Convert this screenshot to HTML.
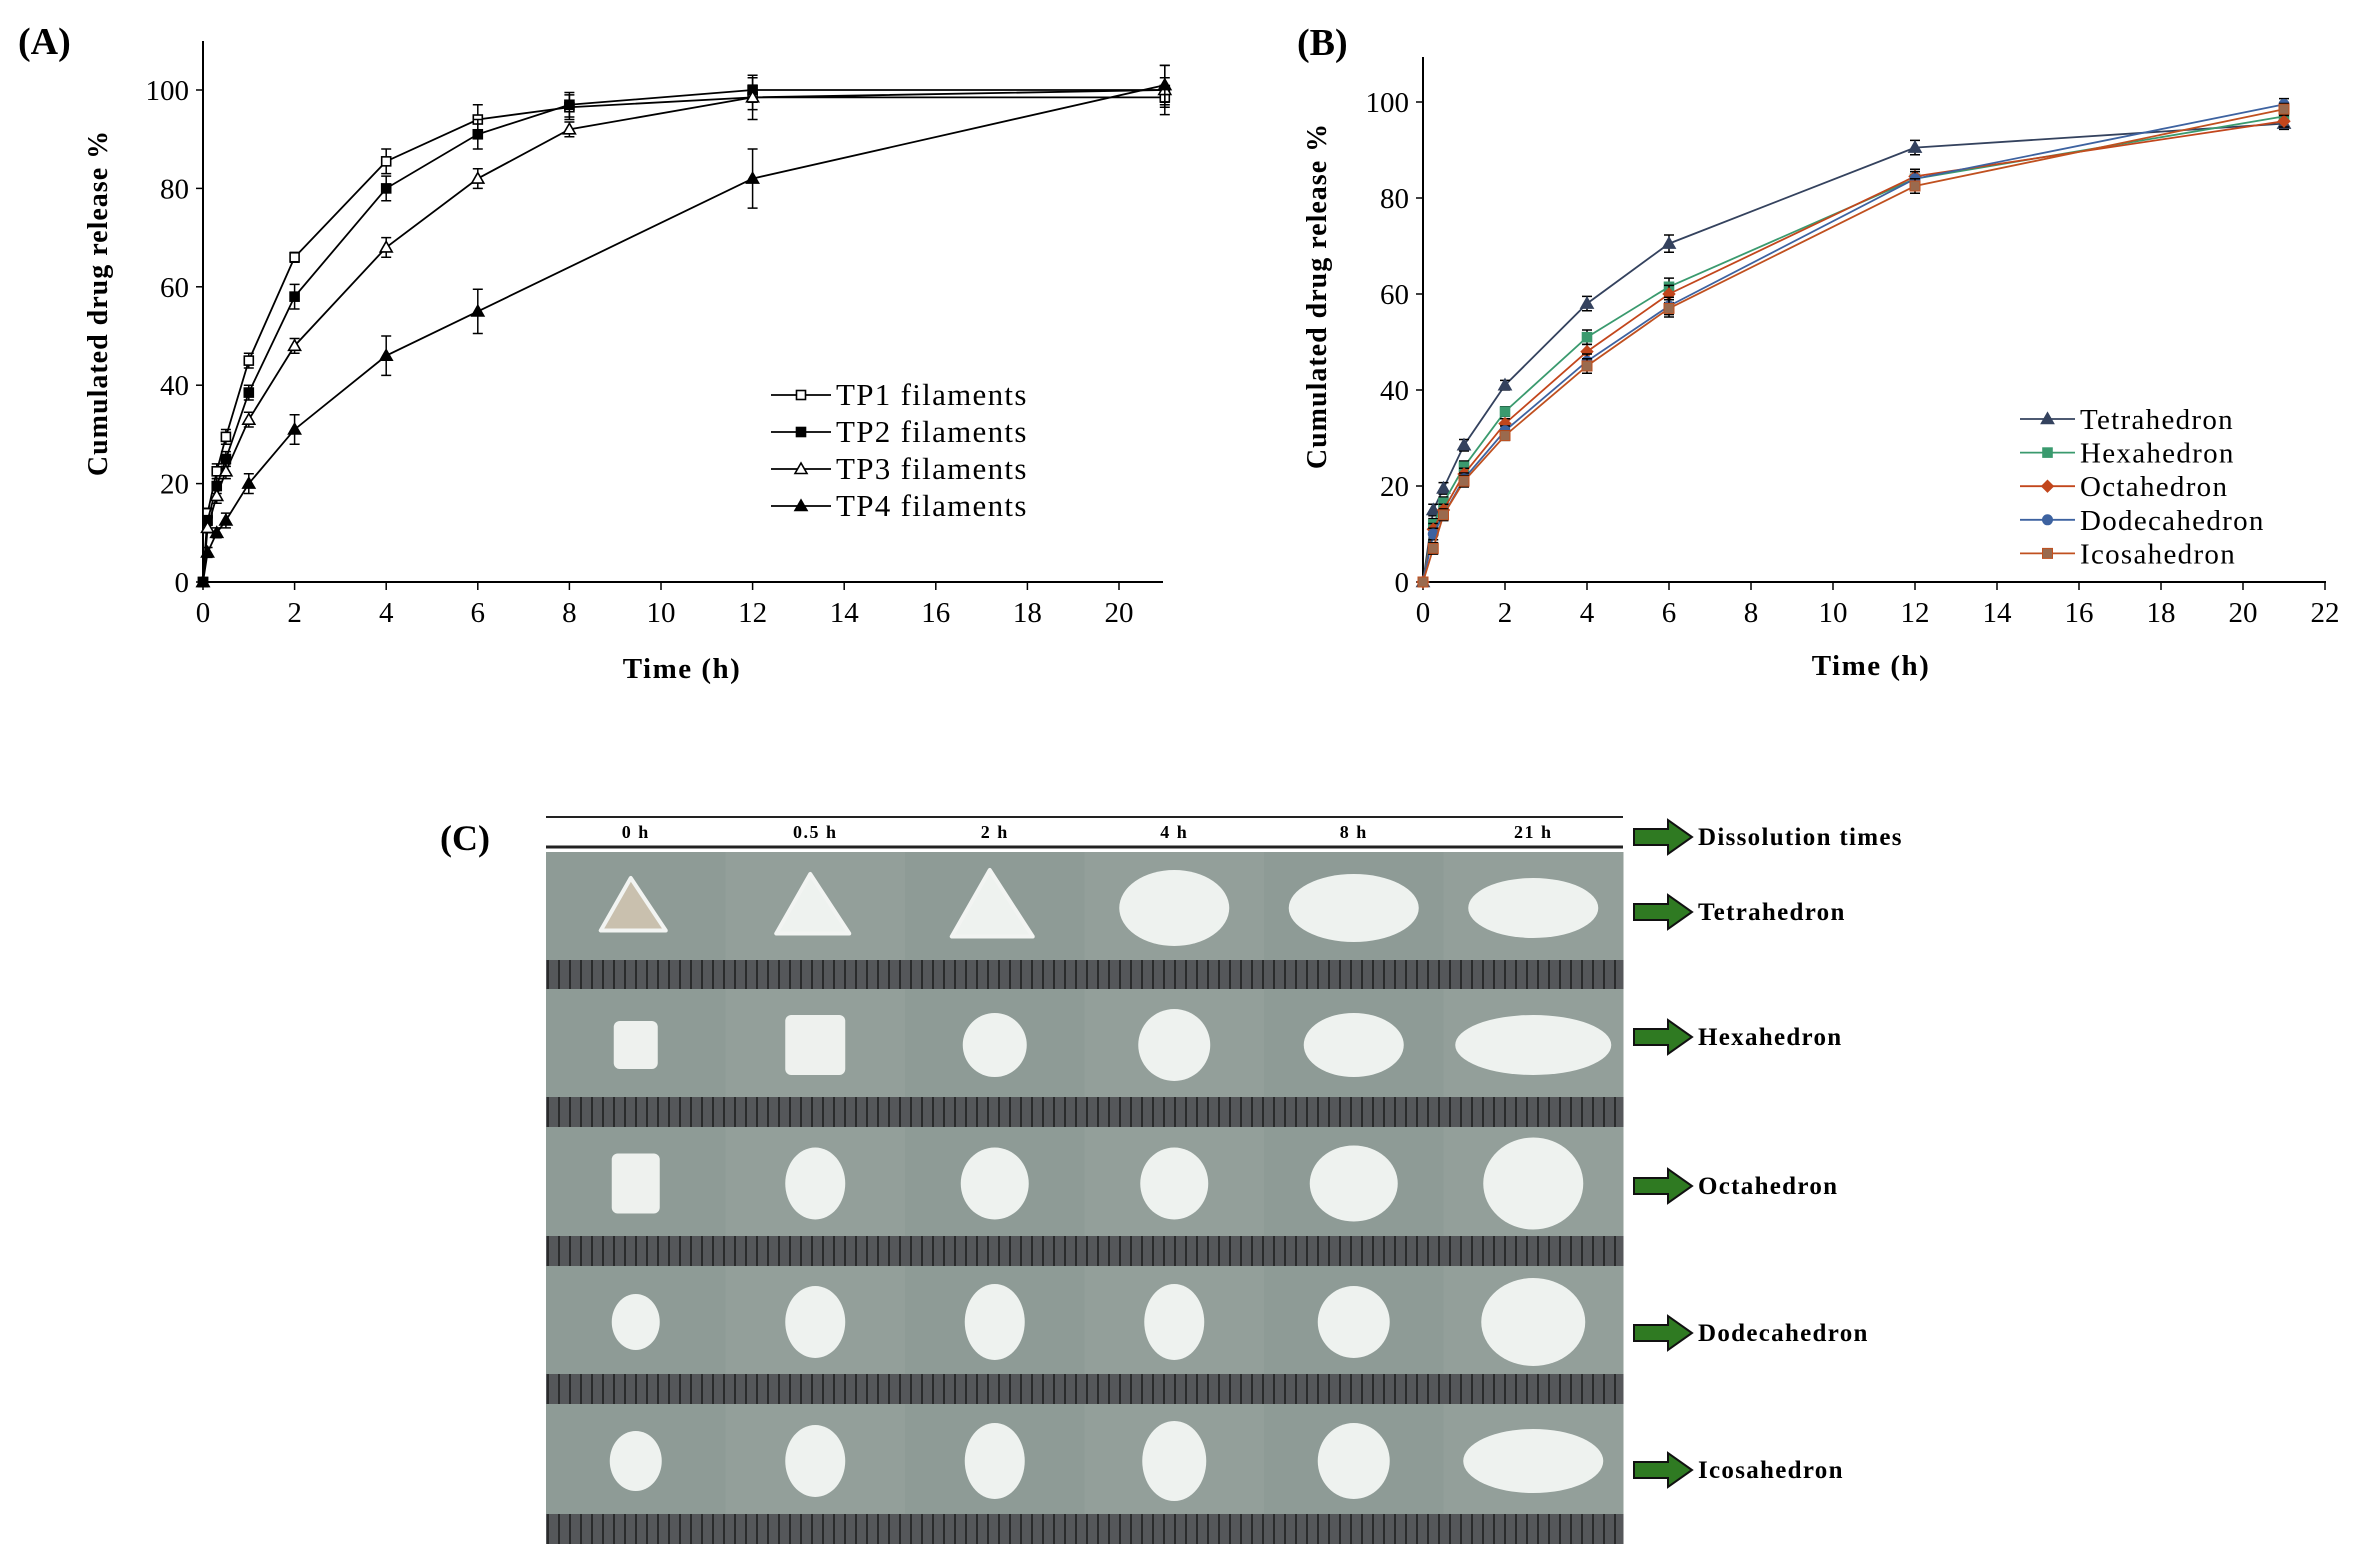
<!DOCTYPE html>
<html><head><meta charset="utf-8"><style>
html,body{margin:0;padding:0;background:#fff;}
svg{display:block;font-family:"Liberation Serif",serif;}
</style></head><body>
<svg id="fig" width="2357" height="1561" viewBox="0 0 2357 1561" xmlns="http://www.w3.org/2000/svg">
<defs>
<pattern id="ruler" width="11" height="40" patternUnits="userSpaceOnUse">
<rect width="11" height="40" fill="#55575a"/><rect x="8" width="2" height="40" fill="#2a2b2c"/>
</pattern>
</defs>
<g id="panelA"></g>
<g id="panelB"></g>
<g id="panelC"></g>
</svg>
<script>
// ---- Panel A data ----
const timesA = [0, 0.1, 0.3, 0.5, 1, 2, 4, 6, 8, 12, 21];
const tp1 = [0, 14, 22.5, 29.5, 45, 66, 85.5, 94, 96.5, 98.5, 98.5];
const tp2 = [0, 12.5, 19.5, 25, 38.5, 58, 80, 91, 97, 100, 100];
const tp3 = [0, 11, 17.5, 22.5, 33, 48, 68, 82, 92, 98.5, 100];
const tp4 = [0, 6, 10, 12.5, 20, 31, 46, 55, null, 82, 101];
const errA1 = [0, 1, 1.5, 1.5, 1.5, 1, 2.5, 3, 2.5, 2.5, 2];
const errA2 = [0, 1, 1.5, 1.5, 1.5, 2.5, 2.5, 3, 2.5, 2.5, 2.5];
const errA3 = [0, 1, 1.5, 1.5, 1.5, 1.5, 2, 2, 1.5, 4.5, 5];
const errA4 = [0, 1, 1, 1.5, 2, 3, 4, 4.5, 0, 6, 4];
const xTicksA = [0,2,4,6,8,10,12,14,16,18,20];
const yTicksA = [0,20,40,60,80,100];
const namesA = ["TP1 filaments","TP2 filaments","TP3 filaments","TP4 filaments"];
// ---- Panel B data ----
const timesB = [0, 0.25, 0.5, 1, 2, 4, 6, 12, 21];
const tetra = [0, 15, 19.5, 28.5, 41, 58, 70.5, 90.5, 95.5];
const hexa = [0, 12, 16.5, 24, 35.5, 51, 61.5, 84, 97];
const octa = [0, 11, 15, 22.5, 33, 48, 60, 84.5, 96];
const dodeca = [0, 10, 14, 21.5, 31.5, 46, 57.5, 84, 99.5];
const icosa = [0, 7, 14, 21, 30.5, 45, 57, 82.5, 98.5];
const errB = [0, 1.2, 1.2, 1.2, 1, 1.5, 1.8, 1.5, 1.2];
const xTicksB = [0,2,4,6,8,10,12,14,16,18,20,22];
const yTicksB = [0,20,40,60,80,100];
const namesB = ["Tetrahedron","Hexahedron","Octahedron","Dodecahedron","Icosahedron"];
// ---- Panel C labels ----
const timeLabels = ["0 h","0.5 h","2 h","4 h","8 h","21 h"];
const shapeLabels = ["Tetrahedron","Hexahedron","Octahedron","Dodecahedron","Icosahedron"];

const NS="http://www.w3.org/2000/svg";
function mk(parent, tag, attrs, text){const e=document.createElementNS(NS,tag);for(const k in attrs)e.setAttribute(k,attrs[k]);if(text!==undefined)e.textContent=text;parent.appendChild(e);return e;}

function marker(g, shape, x, y, color, fill){
  let e;
  if(shape==="sq"){e=mk(g,"rect",{x:x-4.5,y:y-4.5,width:9,height:9,fill:fill,stroke:color,"stroke-width":1.6});}
  else if(shape==="tri"){e=mk(g,"polygon",{points:`${x},${y-6} ${x-6},${y+4.5} ${x+6},${y+4.5}`,fill:fill,stroke:color,"stroke-width":1.6});}
  else if(shape==="dia"){e=mk(g,"polygon",{points:`${x},${y-6} ${x+6},${y} ${x},${y+6} ${x-6},${y}`,fill:fill,stroke:color,"stroke-width":1});}
  else if(shape==="circ"){e=mk(g,"circle",{cx:x,cy:y,r:5,fill:fill,stroke:color});}
  else {e=mk(g,"rect",{x:x-5,y:y-5,width:10,height:10,fill:fill,stroke:color});}
  
  
  return e;
}

function drawChart(g, cfg){
  const sx=v=>cfg.x0+(v-cfg.xmin)*cfg.xs;
  const sy=v=>cfg.y0-v*cfg.ys;
  const ya=mk(g,"line",{x1:cfg.x0,y1:cfg.top,x2:cfg.x0,y2:cfg.y0,stroke:"#000","stroke-width":2});
  
  
  const xa=mk(g,"line",{x1:cfg.x0,y1:cfg.y0,x2:cfg.xend,y2:cfg.y0,stroke:"#000","stroke-width":2});
  
  
  cfg.xt.forEach(t=>{
    mk(g,"line",{x1:sx(t),y1:cfg.y0,x2:sx(t),y2:cfg.y0+8,stroke:"#000","stroke-width":1.5});
    const l=mk(g,"text",{x:sx(t),y:cfg.y0+40,"text-anchor":"middle","font-size":29},t);
    
    
  });
  cfg.yt.forEach(t=>{
    mk(g,"line",{x1:cfg.x0-7,y1:sy(t),x2:cfg.x0,y2:sy(t),stroke:"#000","stroke-width":1.5});
    const l=mk(g,"text",{x:cfg.x0-14,y:sy(t)+10,"text-anchor":"end","font-size":29},t);
    
    
  });
  const xt=mk(g,"text",{x:cfg.xtx,y:cfg.xty,"text-anchor":"middle","font-size":29,"font-weight":"bold","letter-spacing":1.5},"Time (h)");
  
  
  const yt=mk(g,"text",{x:0,y:0,"text-anchor":"middle","font-size":28,"font-weight":"bold","letter-spacing":1,transform:`translate(${cfg.ytx},${cfg.yty}) rotate(-90)`},"Cumulated drug release  %");
  
  
  const pl=mk(g,"text",{x:cfg.plx,y:cfg.ply,"font-size":38,"font-weight":"bold"},cfg.label);
  
  
  cfg.series.forEach((s,si)=>{
    const sg=mk(g,"g",{});
    
    
    const pts=[];
    s.vals.forEach((v,i)=>{if(v!==null)pts.push([sx(cfg.times[i]),sy(v),i]);});
    mk(sg,"polyline",{points:pts.map(p=>p[0]+","+p[1]).join(" "),fill:"none",stroke:s.color,"stroke-width":1.8});
    pts.forEach(p=>{
      const e=s.err[p[2]];
      if(e>0){
        const x=p[0],y1=sy(s.vals[p[2]]+e),y2=sy(s.vals[p[2]]-e);
        mk(sg,"path",{d:`M${x},${y1}V${y2}M${x-5},${y1}H${x+5}M${x-5},${y2}H${x+5}`,stroke:"#000","stroke-width":1.5,fill:"none"});
      }
      marker(sg,s.shape,p[0],p[1],s.color,s.fill);
    });
    const ly=cfg.legY+si*cfg.legDy;
    const lg=mk(g,"g",{});
    
    
    mk(lg,"line",{x1:cfg.legX,y1:ly,x2:cfg.legX+cfg.legW,y2:ly,stroke:s.color,"stroke-width":1.8});
    marker(lg,s.shape,cfg.legX+cfg.legW/2,ly,s.color,s.fill);
    mk(lg,"text",{x:cfg.legX+cfg.legW+5,y:ly+10,"font-size":cfg.legF,"letter-spacing":1.3},s.name);
  });
}

drawChart(document.getElementById("panelA"),{
  x0:203,y0:582,xs:45.8,xmin:0,ys:4.92,top:41,xend:1163,times:timesA,xt:xTicksA,yt:yTicksA,
  xtx:682,xty:678,ytx:107,yty:303,plx:18,ply:54,label:"(A)",legX:771,legY:395,legDy:37,legW:60,legF:31,
  series:[
    {name:namesA[0],vals:tp1,err:errA1,shape:"sq",color:"#000",fill:"#fff"},
    {name:namesA[1],vals:tp2,err:errA2,shape:"sq",color:"#000",fill:"#000"},
    {name:namesA[2],vals:tp3,err:errA3,shape:"tri",color:"#000",fill:"#fff"},
    {name:namesA[3],vals:tp4,err:errA4,shape:"tri",color:"#000",fill:"#000"}
  ]});
drawChart(document.getElementById("panelB"),{
  x0:1423,y0:582,xs:41.0,xmin:0,ys:4.8,top:57,xend:2326,times:timesB,xt:xTicksB,yt:yTicksB,
  xtx:1871,xty:675,ytx:1326,yty:296,plx:1297,ply:55,label:"(B)",legX:2020,legY:419,legDy:33.6,legW:55,legF:29,
  series:[
    {name:namesB[0],vals:tetra,err:errB,shape:"tri",color:"#34425e",fill:"#34425e"},
    {name:namesB[1],vals:hexa,err:errB,shape:"sq",color:"#3a9a6e",fill:"#3a9a6e"},
    {name:namesB[2],vals:octa,err:errB,shape:"dia",color:"#c2461c",fill:"#c2461c"},
    {name:namesB[3],vals:dodeca,err:errB,shape:"circ",color:"#3d62a0",fill:"#3d62a0"},
    {name:namesB[4],vals:icosa,err:errB,shape:"ico",color:"#c0501f",fill:"#9a6a4e"}
  ]});

// ---- Panel C ----
(function(){
  const g=document.getElementById("panelC");
  const gx=546, cw=179.5, rowTops=[852,989,1127,1266,1404], rh=[138,138,139,138,140];
  const pl=mk(g,"text",{x:440,y:850,"font-size":36,"font-weight":"bold"},"(C)");
  
  
  mk(g,"line",{x1:gx,y1:817,x2:gx+1077,y2:817,stroke:"#222","stroke-width":2});
  mk(g,"line",{x1:gx,y1:847,x2:gx+1077,y2:847,stroke:"#222","stroke-width":3});
  timeLabels.forEach((t,i)=>{
    const l=mk(g,"text",{x:gx+cw*i+cw/2,y:838,"text-anchor":"middle","font-size":18,"font-weight":"bold","letter-spacing":1.5},t);
    
    
  });
  const blobs=[
    [["tri",0.75],["tri",0.85],["tri",0.95],["ell",55,38],["ell",65,34],["ell",65,30]],
    [["rect",22,24],["rect",30,30],["ell",32,32],["ell",36,36],["ell",50,32],["ell",78,30]],
    [["rect",24,30],["ell",30,36],["ell",34,36],["ell",34,36],["ell",44,38],["ell",50,46]],
    [["ell",24,28],["ell",30,36],["ell",30,38],["ell",30,38],["ell",36,36],["ell",52,44]],
    [["ell",26,30],["ell",30,36],["ell",30,38],["ell",32,40],["ell",36,38],["ell",70,32]]
  ];
  rowTops.forEach((ry,r)=>{
    const stripH=30;
    for(let c=0;c<6;c++){
      const x=gx+cw*c;
      const cell=mk(g,"g",{});
      
      
      mk(cell,"rect",{x:x,y:ry,width:cw+0.5,height:rh[r]-stripH,fill:c%2?"#939f9a":"#8e9b96"});
      mk(cell,"rect",{x:x,y:ry+rh[r]-stripH,width:cw+0.5,height:stripH,fill:"url(#ruler)"});
      const cx=x+cw/2, cy=ry+(rh[r]-stripH)/2+2;
      const b=blobs[r][c];
      if(b[0]==="tri"){const s=b[1];mk(cell,"polygon",{points:`${cx-5},${cy-40*s} ${cx-40*s-5},${cy+30*s} ${cx+40*s},${cy+30*s}`,fill:c===0?"#c9c0ae":"#eef2ef",stroke:"#f2f4f2","stroke-width":4,"stroke-linejoin":"round"});}
      else if(b[0]==="rect"){mk(cell,"rect",{x:cx-b[1],y:cy-b[2],width:b[1]*2,height:b[2]*2,rx:6,fill:"#eef1ee"});}
      else {mk(cell,"ellipse",{cx:cx,cy:cy,rx:b[1],ry:b[2],fill:"#eef2ef"});}
    }
  });
  const arrowY=[837,912,1037,1186,1333,1470];
  const arrowTxt=["Dissolution times"].concat(shapeLabels);
  arrowY.forEach((y,i)=>{
    const a=mk(g,"g",{});
    
    
    mk(a,"polygon",{points:`1634,${y-8} 1668,${y-8} 1668,${y-17} 1692,${y} 1668,${y+17} 1668,${y+8} 1634,${y+8}`,fill:"#2f7a22",stroke:"#111","stroke-width":2});
    mk(a,"text",{x:1698,y:y+8,"font-size":25,"font-weight":"bold","letter-spacing":1.3},arrowTxt[i]);
  });
})();
</script>
</body></html>
